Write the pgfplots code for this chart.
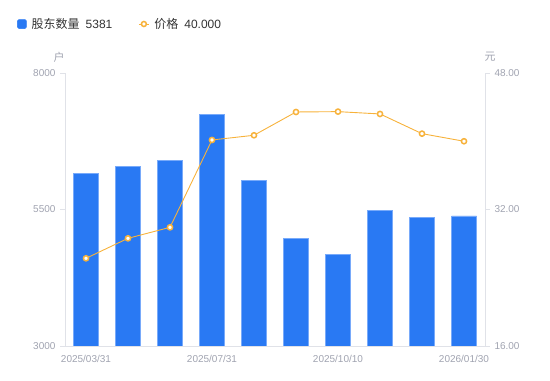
\documentclass[border=0pt]{standalone}
\usepackage{pgfplots}
\pgfplotsset{compat=1.18}
\usepackage{fontspec}
\setmainfont{Liberation Sans}
\newfontfamily\cjk{Noto Sans CJK SC}
\definecolor{barblue}{RGB}{41,121,243}
\definecolor{baredge}{RGB}{120,170,250}
\definecolor{lineorange}{RGB}{247,178,59}
\definecolor{ticktext}{RGB}{160,163,176}
\definecolor{axisgray}{RGB}{224,226,232}
\definecolor{legtext}{RGB}{51,51,51}
\pgfplotstableread{
x holders price
0 6163 26.28
1 6291 28.62
2 6394 29.91
3 7243 40.15
4 6040 40.70
5 4978 43.43
6 4679 43.47
7 5485 43.20
8 5357 40.89
9 5381 40.00
}\datatable
\begin{document}
\begin{tikzpicture}
\useasboundingbox (0,0) rectangle (550bp,381bp);
\begin{axis}[
  at={(65bp,35bp)}, anchor=south west,
  scale only axis, width=420bp, height=273bp,
  xmin=-0.5, xmax=9.5, ymin=3000, ymax=8000,
  axis x line*=bottom, axis y line*=left,
  axis line style={draw=axisgray, line width=0.8bp},
  xtick={0,3,6,9},
  xticklabels={2025/03/31,2025/07/31,2025/10/10,2026/01/30},
  x tick style={draw=none},
  ytick={3000,5500,8000},
  y tick style={draw=axisgray, line width=0.8bp},
  tick align=outside, major tick length=5bp,
  /pgf/number format/assume math mode=true,
  /pgf/number format/set thousands separator={},
  tick label style={font=\fontsize{10bp}{12bp}\selectfont, text=ticktext},
  xticklabel style={yshift=-1bp},
  yticklabel style={xshift=-1bp},
  ybar, bar width=25bp,
  clip mode=individual,
  legend columns=2,
  legend style={draw=none, fill=none, at={(axis description cs:0,1)}, anchor=west,
    xshift=-48bp, yshift=49bp, inner sep=0pt,
    font=\fontsize{12bp}{14bp}\selectfont, text=legtext,
    nodes={inner sep=0pt},
    /tikz/every odd column/.style={column sep=5bp},
    /tikz/every even column/.style={column sep=26bp}},
]
\addplot[fill=barblue, draw=baredge, line width=0.5bp,
  legend image code/.code={\fill[barblue, rounded corners=1.5bp] (0bp,-4.5bp) rectangle (9bp,4.5bp);}]
  table[x=x, y=holders] {\datatable};
\addlegendentry{{\cjk 股东数量}\hspace{6bp}5381}
\addlegendimage{legend image code/.code={
  \draw[lineorange, line width=1bp] (0bp,0bp) -- (10bp,0bp);
  \draw[lineorange, fill=white, line width=1.5bp] (5bp,0bp) circle (2.5bp);}}
\addlegendentry{{\cjk 价格}\hspace{6bp}40.000}
\node[font=\cjk\fontsize{11bp}{13bp}\selectfont, text=ticktext] at (axis description cs:0,1) [xshift=-6bp, yshift=16bp] {户};
\end{axis}
\begin{axis}[
  at={(65bp,35bp)}, anchor=south west,
  scale only axis, width=420bp, height=273bp,
  xmin=-0.5, xmax=9.5, ymin=16, ymax=48,
  axis x line=none, axis y line*=right,
  axis line style={draw=axisgray, line width=0.8bp},
  ytick={16,32,48},
  y tick style={draw=axisgray, line width=0.8bp},
  tick align=outside, major tick length=5bp,
  /pgf/number format/assume math mode=true,
  yticklabel style={/pgf/number format/fixed, /pgf/number format/precision=2, /pgf/number format/fixed zerofill, font=\fontsize{10bp}{12bp}\selectfont, text=ticktext, xshift=1bp},
  clip=false,
]
\addplot[lineorange, line width=0.9bp, mark=*, mark size=2.6bp,
  mark options={draw=lineorange, fill=white, line width=1.5bp}]
  table[x=x, y=price] {\datatable};
\node[font=\cjk\fontsize{11bp}{13bp}\selectfont, text=ticktext] at (axis description cs:1,1) [xshift=5bp, yshift=16bp] {元};
\end{axis}
\end{tikzpicture}
\end{document}
